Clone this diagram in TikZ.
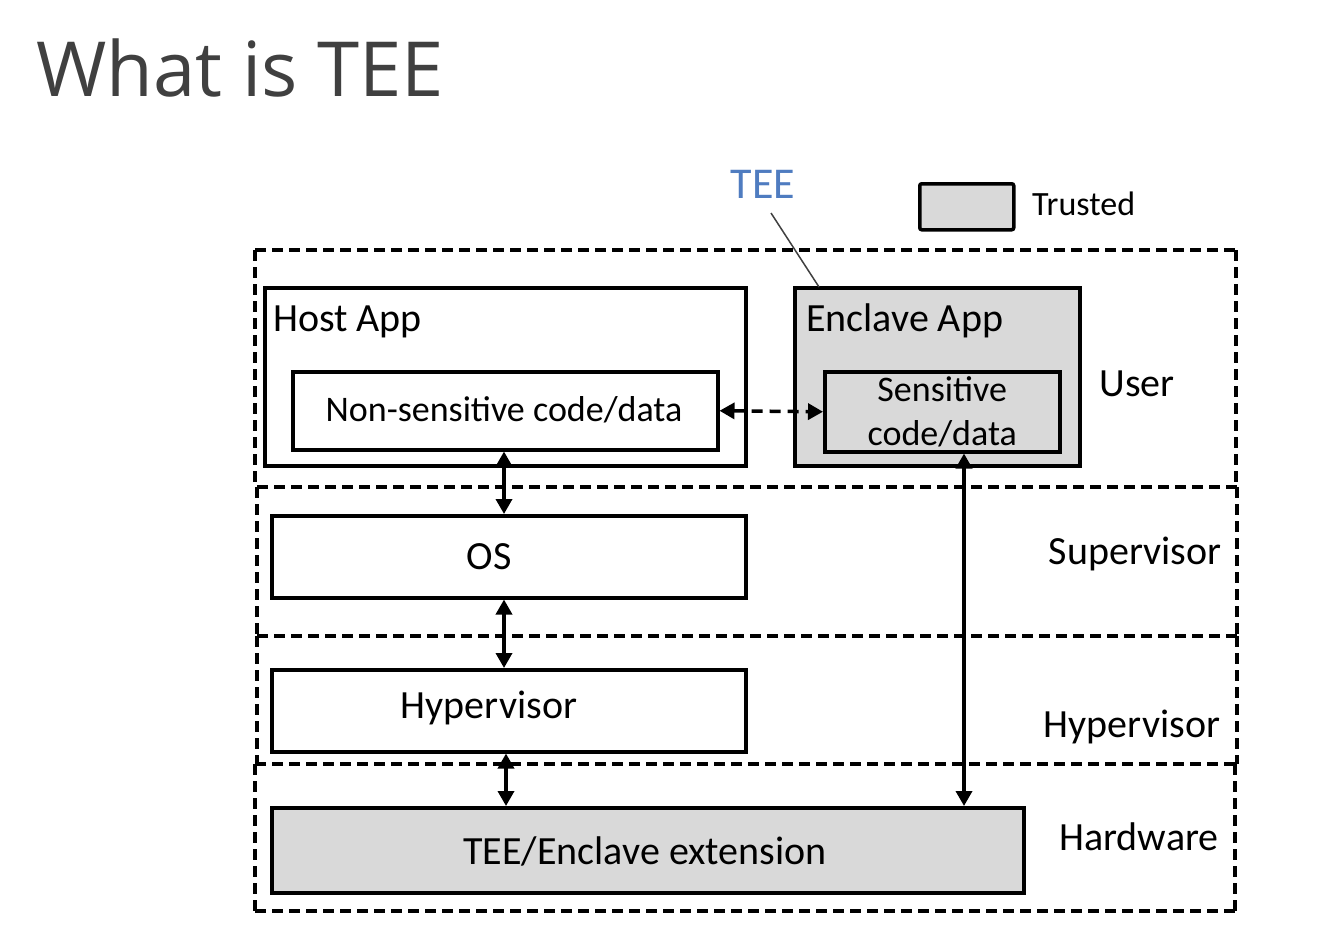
\documentclass[tikz,border=0pt]{standalone}
\usepackage{fontspec}
\setmainfont{Carlito}
\newfontfamily\titlefont{Open Sans}
\usetikzlibrary{arrows.meta}
\definecolor{trustgray}{HTML}{D9D9D9}
\definecolor{titlegray}{HTML}{404040}
\definecolor{teeblue}{HTML}{4F7CC0}
\tikzset{
  box/.style={draw=black, line width=3.5pt, fill=white},
  tbox/.style={draw=black, line width=3.5pt, fill=trustgray},
  layer/.style={draw=black, line width=3.5pt, dash pattern=on 11pt off 6pt},
  lbl/.style={font=\fontsize{40}{44}\selectfont, inner sep=0pt},
  sm/.style={font=\fontsize{36}{44}\selectfont, inner sep=0pt},
  conn/.style={line width=3.5pt, {Triangle[length=15pt,width=16pt]}-{Triangle[length=15pt,width=16pt]}},
}
\begin{document}
\begin{tikzpicture}[x=1pt,y=-1pt]
\useasboundingbox (0,0) rectangle (1336,938);
% title
\node[anchor=west, inner sep=0pt, font=\titlefont\fontsize{76}{80}\selectfont, text=titlegray] (title) at (36,68) {What is TEE};
% layers
\draw[layer] (255,250) -- (1236,250);
\draw[layer] (257,487) -- (1237,487);
\draw[layer] (257,636) -- (1237,636);
\draw[layer] (255,764) -- (1237,764);
\draw[layer] (255,911) -- (1235,911);
\draw[layer] (255,250) -- (255,487);
\draw[layer] (1236,250) -- (1236,487);
\draw[layer] (257,487) -- (257,636);
\draw[layer] (1237,487) -- (1237,636);
\draw[layer] (257,636) -- (257,764);
\draw[layer] (1237,636) -- (1237,764);
\draw[layer] (255,764) -- (255,911);
\draw[layer] (1235,764) -- (1235,911);
% legend
\node[tbox, anchor=north west, minimum width=94pt, minimum height=46pt, rounded corners=2pt] (legend) at (918,182) {};
\node[sm, font=\fontsize{34}{40}\selectfont, anchor=west] (trusted) at (1032,204) {Trusted};
% boxes
\node[box, anchor=north west, minimum width=481pt, minimum height=178pt] (host) at (263,286) {};
\node[lbl, anchor=west] (hostlbl) at (273,322) {Host App};
\node[box, anchor=north west, minimum width=425pt, minimum height=78pt] (nonsens) at (291,370) {};
\node[sm] at (504,410) {Non-sensitive code/data};
\node[tbox, anchor=north west, minimum width=285pt, minimum height=178pt] (enclave) at (793,286) {};
\node[lbl, anchor=west] (enclbl) at (806,321) {Enclave App};
\node[tbox, anchor=north west, minimum width=235pt, minimum height=80pt] (sens) at (823,370) {};
\node[sm, align=center] at (sens.center) {Sensitive\\code/data};
\node[box, anchor=north west, minimum width=474pt, minimum height=82pt] (os) at (270,514) {};
\node[lbl] at (489,557) {OS};
\node[box, anchor=north west, minimum width=474pt, minimum height=82pt] (hyp) at (270,668) {};
\node[lbl] at (489,708) {Hypervisor};
\node[tbox, anchor=north west, minimum width=752pt, minimum height=85pt] (ext) at (270,806) {};
\node[lbl] at (645,851) {TEE/Enclave extension};
% layer labels
\node[lbl] (user) at (1137,384) {User};
\node[lbl] (sup) at (1135,554) {Supervisor};
\node[lbl] (hypl) at (1132,727) {Hypervisor};
\node[lbl] (hw) at (1139,837) {Hardware};
% TEE label
\node[lbl, font=\fontsize{44}{48}\selectfont, text=teeblue] (tee) at (763,184) {TEE};
\coordinate (teeend) at (819,287);
\draw[line width=1.5pt, draw=titlegray] (771,213) -- (teeend);
% connectors
\draw[conn, dash pattern=on 11pt off 7pt] (nonsens.east) -- (sens.west);
\draw[conn] (nonsens.south -| 504,0) -- (os.north -| 504,0);
\draw[conn] (os.south -| 504,0) -- (hyp.north -| 504,0);
\draw[conn] (hyp.south -| 506,0) -- (ext.north -| 506,0);
\draw[conn] (sens.south -| 964,0) -- (ext.north -| 964,0);
\end{tikzpicture}
\end{document}
